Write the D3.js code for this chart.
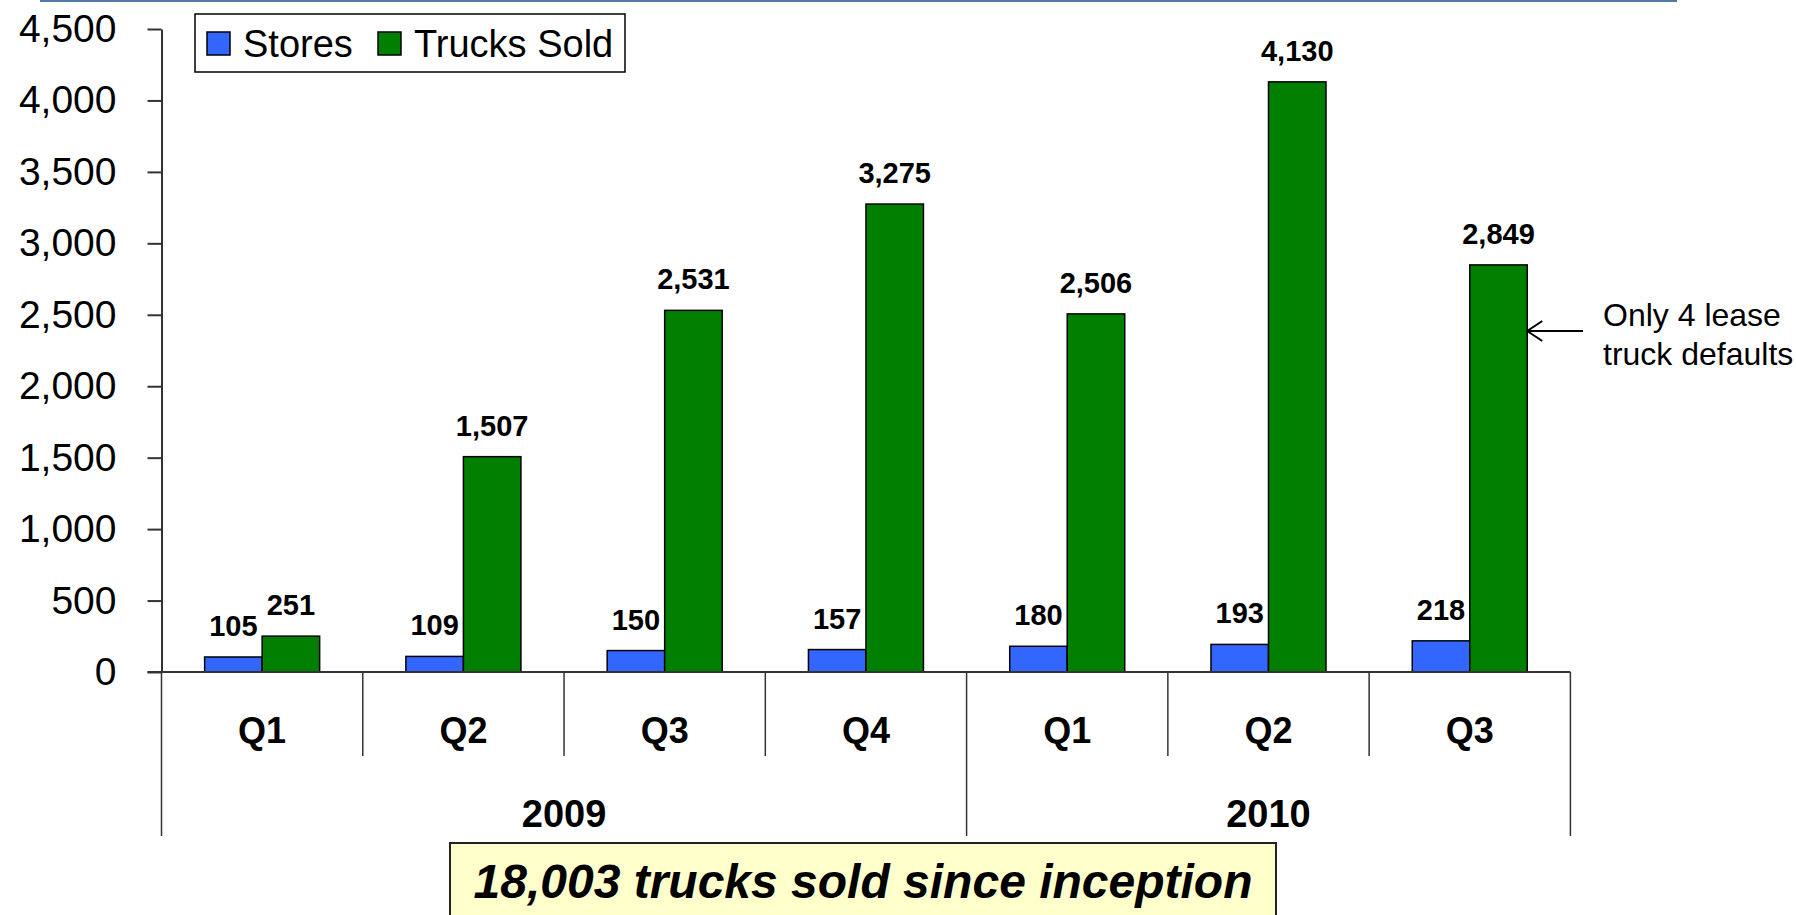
<!DOCTYPE html>
<html>
<head>
<meta charset="utf-8">
<script src="https://cdn.jsdelivr.net/npm/d3@7"></script>
<style>
  body { margin: 0; background: #fff; }
  svg { display: block; font-family: "Liberation Sans", Arial, sans-serif; }
</style>
</head>
<body>
<svg id="chart"></svg>
<script>
// data
const quarters = ["Q1", "Q2", "Q3", "Q4", "Q1", "Q2", "Q3"];
const years = ["2009", "2010"];
const yearSpans = [4, 3];          // how many quarters fall under each year
const stores = [105, 109, 150, 157, 180, 193, 218];
const trucks = [251, 1507, 2531, 3275, 2506, 4130, 2849];
const seriesNames = ["Stores", "Trucks Sold"];
const seriesColors = ["#3366ff", "#007f00"];
const yTicks = [0, 500, 1000, 1500, 2000, 2500, 3000, 3500, 4000, 4500];
const calloutText = "18,003 trucks sold since inception";
const noteLines = ["Only 4 lease", "truck defaults"];

const width = 1796, height = 915;
const margin = { left: 161.5, right: 1570.4, top: 29, bottom: 672 };

const svg = d3.select("#chart")
  .attr("width", width)
  .attr("height", height);

// thin rule across the top of the slide
svg.append("line")
  .attr("x1", 40).attr("x2", 1677)
  .attr("y1", 1).attr("y2", 1)
  .attr("stroke", "#4f7aa6")
  .attr("stroke-width", 2);

const idx = d3.range(quarters.length);

const x = d3.scaleBand()
  .domain(idx)
  .range([margin.left, margin.right])
  .padding(0);

const xSeries = d3.scaleBand()
  .domain(d3.range(2))
  .range([0, x.bandwidth()])
  .paddingInner(0)
  .paddingOuter(0.75);

const y = d3.scaleLinear()
  .domain([0, 4500])
  .range([margin.bottom, margin.top]);

// y axis
const yAxis = d3.axisLeft(y)
  .tickValues(yTicks)
  .tickFormat(d3.format(","))
  .tickSize(14)
  .tickSizeOuter(0)
  .tickPadding(31);

const yAxisG = svg.append("g")
  .attr("transform", `translate(${margin.left},0)`)
  .call(yAxis);
yAxisG.select(".domain").attr("stroke", "#333").attr("stroke-width", 2);
yAxisG.selectAll(".tick line").attr("stroke", "#333").attr("stroke-width", 2);
yAxisG.selectAll(".tick text")
  .attr("fill", "#000")
  .style("font-family", "'Liberation Sans', Arial, sans-serif")
  .style("font-size", "39px");

// bars
const rows = idx.map(i => [stores[i], trucks[i]]);

const groups = svg.append("g").selectAll("g")
  .data(rows)
  .join("g")
  .attr("transform", (d, i) => `translate(${x(i)},0)`);

groups.selectAll("rect")
  .data(d => d)
  .join("rect")
  .attr("x", (d, j) => xSeries(j))
  .attr("width", xSeries.bandwidth())
  .attr("y", d => y(d))
  .attr("height", d => y(0) - y(d))
  .attr("fill", (d, j) => seriesColors[j])
  .attr("stroke", "#000")
  .attr("stroke-width", 1.5);

groups.selectAll("text")
  .data(d => d)
  .join("text")
  .attr("x", (d, j) => xSeries(j) + xSeries.bandwidth() / 2)
  .attr("y", d => y(d) - 21)
  .attr("text-anchor", "middle")
  .style("font-size", "29px")
  .style("font-weight", "bold")
  .text(d => d3.format(",")(d));

// x axis line and category dividers
svg.append("line")
  .attr("x1", margin.left - 14).attr("x2", margin.right)
  .attr("y1", y(0)).attr("y2", y(0))
  .attr("stroke", "#333").attr("stroke-width", 2);

const yearStarts = [0];
yearSpans.forEach((n, k) => yearStarts.push(yearStarts[k] + n));

const dividers = d3.range(quarters.length + 1);
svg.append("g").selectAll("line")
  .data(dividers)
  .join("line")
  .attr("x1", i => margin.left + i * x.step())
  .attr("x2", i => margin.left + i * x.step())
  .attr("y1", y(0))
  .attr("y2", i => yearStarts.includes(i) ? 836 : 756)
  .attr("stroke", "#333")
  .attr("stroke-width", 1.5);

svg.append("g").selectAll("text")
  .data(quarters)
  .join("text")
  .attr("x", (d, i) => x(i) + x.bandwidth() / 2)
  .attr("y", 743)
  .attr("text-anchor", "middle")
  .style("font-size", "36px")
  .style("font-weight", "bold")
  .text(d => d);

svg.append("g").selectAll("text")
  .data(years)
  .join("text")
  .attr("x", (d, k) => margin.left + (yearStarts[k] + yearSpans[k] / 2) * x.step())
  .attr("y", 827)
  .attr("text-anchor", "middle")
  .style("font-size", "38px")
  .style("font-weight", "bold")
  .text(d => d);

// legend
const legend = svg.append("g");
legend.append("rect")
  .attr("x", 195).attr("y", 14)
  .attr("width", 430).attr("height", 58)
  .attr("fill", "#fff")
  .attr("stroke", "#000")
  .attr("stroke-width", 1.5);

const legendX = [207, 378];
seriesNames.forEach((name, j) => {
  legend.append("rect")
    .attr("x", legendX[j]).attr("y", 32)
    .attr("width", 23).attr("height", 23)
    .attr("fill", seriesColors[j])
    .attr("stroke", "#000")
    .attr("stroke-width", 1.5);
  legend.append("text")
    .attr("x", legendX[j] + 36)
    .attr("y", 57)
    .style("font-size", "38px")
    .text(name);
});

// annotation with arrow pointing at the last trucks bar
const lastI = quarters.length - 1;
const arrowTipX = x(lastI) + xSeries(1) + xSeries.bandwidth();
const arrowY = 331;
svg.append("line")
  .attr("x1", arrowTipX).attr("x2", 1583)
  .attr("y1", arrowY).attr("y2", arrowY)
  .attr("stroke", "#000").attr("stroke-width", 2);
svg.append("path")
  .attr("d", `M${arrowTipX + 15},${arrowY - 10} L${arrowTipX},${arrowY} L${arrowTipX + 15},${arrowY + 10}`)
  .attr("fill", "none")
  .attr("stroke", "#000")
  .attr("stroke-width", 2);

svg.append("g").selectAll("text")
  .data(noteLines)
  .join("text")
  .attr("x", 1603)
  .attr("y", (d, i) => 326 + i * 39)
  .style("font-size", "32px")
  .text(d => d);

// callout box at the bottom
svg.append("rect")
  .attr("x", 450).attr("y", 843)
  .attr("width", 826).attr("height", 90)
  .attr("fill", "#ffffcc")
  .attr("stroke", "#222")
  .attr("stroke-width", 2);

svg.append("text")
  .attr("x", 863)
  .attr("y", 898)
  .attr("text-anchor", "middle")
  .style("font-size", "48px")
  .style("font-weight", "bold")
  .style("font-style", "italic")
  .text(calloutText);
</script>
</body>
</html>
